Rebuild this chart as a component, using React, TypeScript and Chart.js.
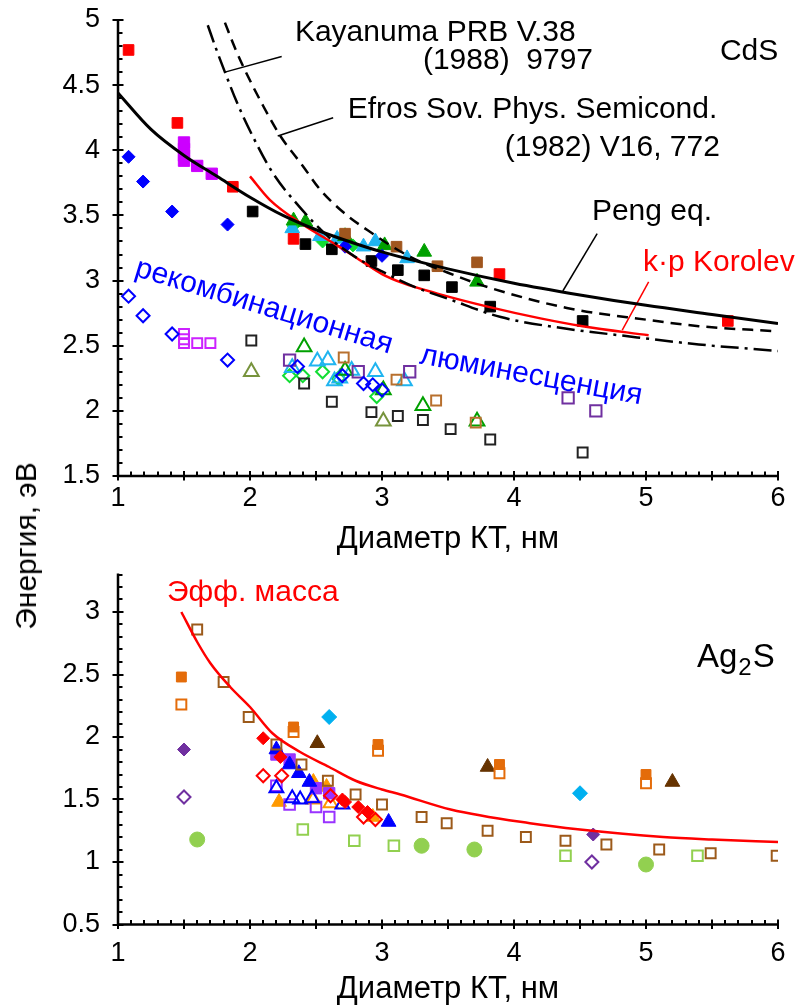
import React, { useEffect, useRef } from "react";
import { Chart, registerables } from "chart.js";
Chart.register(...registerables);

type P = [number, number];
const FONT = "'Liberation Sans', Arial, Helvetica, sans-serif";

// ---------------- CdS (top panel) ----------------
const xTicksTop = [1, 2, 3, 4, 5, 6];
const yTicksTop = [1.5, 2, 2.5, 3, 3.5, 4, 4.5, 5];

const pengEq: P[] = [[1, 4.44], [1.25, 4.16], [1.5, 3.96], [1.75, 3.8], [2, 3.64], [2.25, 3.5], [2.5, 3.39], [2.75, 3.3], [3, 3.22], [3.5, 3.09], [4, 2.98], [4.5, 2.89], [5, 2.81], [5.5, 2.74], [6, 2.67]];
const kayanuma: P[] = [[1.68, 4.96], [1.75, 4.76], [1.81, 4.6], [1.9, 4.37], [2.0, 4.15], [2.17, 3.83], [2.38, 3.56], [2.6, 3.33], [2.8, 3.18], [3.0, 3.07], [3.25, 2.95], [3.5, 2.86], [3.9, 2.72], [4.4, 2.63], [4.8, 2.58], [5.4, 2.51], [6.0, 2.46]];
const efros: P[] = [[1.81, 4.98], [1.88, 4.8], [1.95, 4.64], [2.1, 4.34], [2.23, 4.11], [2.4, 3.88], [2.53, 3.7], [2.7, 3.53], [2.9, 3.38], [3.2, 3.19], [3.5, 3.06], [3.8, 2.95], [4.4, 2.79], [5.0, 2.7], [5.4, 2.65], [6.0, 2.61]];
const kpKorolev: P[] = [[2.0, 3.8], [2.15, 3.62], [2.4, 3.43], [2.66, 3.27], [2.86, 3.14], [3.0, 3.05], [3.16, 2.98], [3.42, 2.9], [3.8, 2.8], [4.2, 2.71], [4.52, 2.65], [5.02, 2.58]];

const ptrKayanuma: P[] = [[2.24, 4.72], [1.81, 4.6]];
const ptrEfros: P[] = [[2.63, 4.25], [2.21, 4.11]];
const ptrPeng: P[] = [[4.63, 3.36], [4.37, 2.92]];
const ptrKorolev: P[] = [[5.02, 2.99], [4.82, 2.62]];

const cdsRedSq: P[] = [[1.08, 4.77], [1.45, 4.21], [1.87, 3.72], [2.33, 3.32], [3.89, 3.05], [5.62, 2.69]];
const cdsMagentaSq: P[] = [[1.5, 4.06], [1.5, 4.01], [1.5, 3.96], [1.5, 3.92], [1.6, 3.88], [1.71, 3.82]];
const cdsBlueDia: P[] = [[1.08, 3.95], [1.19, 3.76], [1.41, 3.53], [1.83, 3.43], [2.72, 3.26], [3.0, 3.19]];
const cdsBlackSq: P[] = [[2.02, 3.53], [2.42, 3.28], [2.62, 3.24], [2.92, 3.15], [3.12, 3.08], [3.32, 3.04], [3.53, 2.95], [3.82, 2.8], [4.52, 2.69]];
const cdsBrownSq: P[] = [[2.72, 3.36], [3.11, 3.26], [3.42, 3.11], [3.72, 3.14]];
const cdsGreenTri: P[] = [[2.33, 3.46], [2.42, 3.45], [2.72, 3.34], [3.02, 3.27], [3.32, 3.22], [3.72, 2.99]];
const cdsCyanTri: P[] = [[2.32, 3.4], [2.53, 3.34], [2.66, 3.32], [2.86, 3.26], [2.95, 3.3], [3.19, 3.17]];
const cdsLimeDia: P[] = [[2.33, 3.42], [2.55, 3.3], [2.78, 3.27]];

const cdsBlueDiaO: P[] = [[1.08, 2.88], [1.19, 2.73], [1.41, 2.59], [1.83, 2.39], [2.36, 2.34], [2.7, 2.27], [2.86, 2.21], [2.93, 2.2], [3.0, 2.16]];
const cdsMagentaSqO: P[] = [[1.5, 2.59], [1.5, 2.55], [1.5, 2.52], [1.6, 2.52], [1.7, 2.52]];
const cdsBlackSqO: P[] = [[2.01, 2.54], [2.41, 2.21], [2.62, 2.07], [2.92, 1.99], [3.12, 1.96], [3.31, 1.93], [3.52, 1.86], [3.82, 1.78], [4.52, 1.68]];
const cdsBrownSqO: P[] = [[2.71, 2.41], [3.11, 2.24], [3.41, 2.08], [3.71, 1.91]];
const cdsPurpleSqO: P[] = [[2.3, 2.39], [2.82, 2.3], [3.21, 2.3], [4.41, 2.1], [4.62, 2.0]];
const cdsOliveTriO: P[] = [[2.01, 2.3], [3.01, 1.92]];
const cdsGreenTriO: P[] = [[2.41, 2.49], [2.72, 2.31], [3.01, 2.16], [3.31, 2.04], [3.72, 1.92]];
const cdsCyanTriO: P[] = [[2.32, 2.33], [2.51, 2.38], [2.59, 2.39], [2.64, 2.23], [2.68, 2.25], [2.77, 2.31], [2.95, 2.3], [3.17, 2.23]];
const cdsLimeDiaO: P[] = [[2.3, 2.27], [2.4, 2.27], [2.55, 2.3], [2.67, 2.25], [2.96, 2.11]];

// ---------------- Ag2S (bottom panel) ----------------
const xTicksBot = [1, 2, 3, 4, 5, 6];
const yTicksBot = [0.5, 1, 1.5, 2, 2.5, 3];

const effMass: P[] = [[1.48, 3.0], [1.6, 2.76], [1.7, 2.59], [1.85, 2.4], [2.0, 2.24], [2.17, 2.03], [2.38, 1.88], [2.6, 1.76], [2.8, 1.65], [3.0, 1.58], [3.14, 1.54], [3.52, 1.42], [4.12, 1.31], [4.5, 1.26], [5.13, 1.2], [5.5, 1.18], [6.0, 1.16]];

const agBrownSqO: P[] = [[1.6, 2.86], [1.8, 2.44], [1.99, 2.16], [2.2, 1.94], [2.39, 1.78], [2.59, 1.65], [2.8, 1.54], [3.0, 1.46], [3.3, 1.36], [3.49, 1.31], [3.8, 1.25], [4.09, 1.2], [4.39, 1.17], [4.7, 1.14], [5.1, 1.1], [5.49, 1.07], [5.99, 1.05]];
const agOrangeSq: P[] = [[1.48, 2.48], [2.33, 2.08], [2.97, 1.94], [3.89, 1.78], [5.0, 1.7]];
const agOrangeSqO: P[] = [[1.48, 2.26], [2.33, 2.04], [2.97, 1.89], [3.89, 1.71], [5.0, 1.63]];
const agDarkTri: P[] = [[2.51, 1.95], [3.8, 1.76], [5.2, 1.64]];
const agCyanDia: P[] = [[2.6, 2.16], [4.5, 1.55]];
const agPurpleDia: P[] = [[1.5, 1.9], [4.6, 1.22]];
const agPurpleDiaO: P[] = [[1.5, 1.52], [4.59, 1.0]];
const agGreenDot: P[] = [[1.6, 1.18], [3.3, 1.13], [3.7, 1.1], [5.0, 0.98]];
const agGreenSqO: P[] = [[2.4, 1.26], [2.79, 1.17], [3.09, 1.13], [4.39, 1.05], [5.39, 1.05]];
const agRedDia: P[] = [[2.1, 1.99], [2.23, 1.84], [2.7, 1.5], [2.72, 1.48], [2.82, 1.44], [2.89, 1.4]];
const agRedDiaO: P[] = [[2.1, 1.69], [2.24, 1.69], [2.61, 1.53], [2.86, 1.36], [2.95, 1.34]];
const agBlueTri: P[] = [[2.2, 1.9], [2.3, 1.78], [2.37, 1.71], [2.45, 1.64], [3.05, 1.32]];
const agBlueTriO: P[] = [[2.2, 1.59], [2.32, 1.51], [2.38, 1.5], [2.47, 1.51], [2.7, 1.46]];
const agVioletSq: P[] = [[2.2, 1.86], [2.3, 1.82], [2.5, 1.59], [2.6, 1.55]];
const agVioletSqO: P[] = [[2.2, 1.61], [2.3, 1.46], [2.5, 1.44], [2.6, 1.36]];
const agOrangeTri: P[] = [[2.22, 1.48], [2.48, 1.64], [2.58, 1.6], [2.93, 1.36]];
const agOrangeTriO: P[] = [[2.48, 1.5], [2.61, 1.47]];

// ---------------- helpers ----------------
const toXY = (a: P[]) => a.map(([x, y]) => ({ x, y }));

function mk(data: P[], style: string, color: string, filled: boolean, r: number, bw = 2) {
  return {
    data: toXY(data),
    pointStyle: style,
    pointRadius: r,
    pointHoverRadius: r,
    pointBackgroundColor: filled ? color : "rgba(0,0,0,0)",
    pointBorderColor: color,
    pointBorderWidth: filled ? 1 : bw,
    showLine: false,
    order: 5,
  };
}
function ln(data: P[], color: string, width: number, dash: number[] = [], smooth = true) {
  return {
    data: toXY(data),
    showLine: true,
    borderColor: color,
    borderWidth: width,
    borderDash: dash,
    pointRadius: 0,
    pointHoverRadius: 0,
    tension: smooth ? 0.4 : 0,
    cubicInterpolationMode: smooth ? "monotone" : "default",
    fill: false,
    order: 1,
  };
}

type Note = { text: string; x: number; y: number; color?: string; size?: number; rot?: number; align?: CanvasTextAlign; sub?: [string, string, string] };

function makeNotes(items: Note[]) {
  return {
    id: "notes",
    afterDraw(chart: any) {
      const { ctx, scales } = chart;
      for (const n of items) {
        const px = scales.x.getPixelForValue(n.x);
        const py = scales.y.getPixelForValue(n.y);
        const size = n.size || 30;
        ctx.save();
        ctx.translate(px, py);
        ctx.rotate(((n.rot || 0) * Math.PI) / 180);
        ctx.fillStyle = n.color || "#000";
        ctx.textBaseline = "middle";
        ctx.textAlign = n.align || "left";
        ctx.font = `${size}px ${FONT}`;
        if (n.sub) {
          const [a, b, c] = n.sub;
          ctx.textAlign = "left";
          ctx.fillText(a, 0, 0);
          let w = ctx.measureText(a).width + 1;
          ctx.font = `${Math.round(size * 0.72)}px ${FONT}`;
          ctx.fillText(b, w, size * 0.3);
          w += ctx.measureText(b).width + 1;
          ctx.font = `${size}px ${FONT}`;
          ctx.fillText(c, w, 0);
        } else {
          ctx.fillText(n.text, 0, 0);
        }
        ctx.restore();
      }
    },
  };
}

const axesPlugin = {
  id: "axesTicks",
  afterDraw(chart: any) {
    const { ctx, chartArea: a, scales } = chart;
    const x = scales.x, y = scales.y;
    ctx.save();
    ctx.strokeStyle = "#000";
    ctx.lineWidth = 2.5;
    ctx.beginPath();
    ctx.moveTo(a.left, a.top - 1);
    ctx.lineTo(a.left, a.bottom);
    ctx.lineTo(a.right + 1, a.bottom);
    ctx.stroke();
    ctx.lineWidth = 2;
    ctx.beginPath();
    for (let i = Math.round(y.min * 10); i <= Math.round(y.max * 10); i++) {
      const p = Math.round(y.getPixelForValue(i / 10));
      const major = i % 5 === 0;
      ctx.moveTo(a.left - (major ? 5.5 : 0), p);
      ctx.lineTo(a.left + (major ? 5.5 : 4.5), p);
    }
    for (let i = Math.round(x.min * 10); i <= Math.round(x.max * 10); i++) {
      const p = Math.round(x.getPixelForValue(i / 10));
      const major = i % 5 === 0;
      ctx.moveTo(p, a.bottom + (major ? 4.5 : 0));
      ctx.lineTo(p, a.bottom - (major ? 5 : 4.5));
    }
    ctx.stroke();
    ctx.restore();
  },
};

function scaleOpts(xmin: number, xmax: number, ymin: number, ymax: number, xTicks: number[], yTicks: number[], xH: number, xPad: number, titlePad: number) {
  const font = { family: FONT, size: 27 };
  return {
    x: {
      type: "linear",
      min: xmin,
      max: xmax,
      afterFit: (s: any) => { s.height = xH; s.paddingLeft = 0; s.paddingRight = 0; },
      afterBuildTicks: (s: any) => { s.ticks = xTicks.map((v) => ({ value: v })); },
      grid: { display: false, drawTicks: false },
      border: { display: false },
      ticks: { padding: xPad, font, color: "#000", autoSkip: false, maxRotation: 0, callback: (v: any) => String(v) },
      title: { display: true, text: "Диаметр КТ, нм", font: { family: FONT, size: 31 }, color: "#000", padding: { top: 0, bottom: titlePad } },
    },
    y: {
      type: "linear",
      min: ymin,
      max: ymax,
      afterFit: (s: any) => { s.width = 118; s.paddingTop = 0; s.paddingBottom = 0; },
      afterBuildTicks: (s: any) => { s.ticks = yTicks.map((v) => ({ value: v })); },
      grid: { display: false, drawTicks: false },
      border: { display: false },
      ticks: { padding: 18, font, color: "#000", autoSkip: false, callback: (v: any) => String(v) },
    },
  };
}

const topNotes: Note[] = [
  { text: "Kayanuma PRB V.38", x: 2.34, y: 4.9 },
  { text: "(1988)  9797", x: 3.31, y: 4.69 },
  { text: "Efros Sov. Phys. Semicond.", x: 2.74, y: 4.31 },
  { text: "(1982) V16, 772", x: 3.93, y: 4.02 },
  { text: "CdS", x: 5.56, y: 4.755 },
  { text: "Peng eq.", x: 4.59, y: 3.53 },
  { text: "k·p Korolev", x: 4.977, y: 3.136, color: "#ff0000" },
  { text: "рекомбинационная", x: 2.106, y: 2.8, color: "#0000ff", rot: 17, align: "center" },
  { text: "люминесценция", x: 4.13, y: 2.27, color: "#0000ff", rot: 10.5, align: "center" },
];
const botNotes: Note[] = [
  { text: "Эфф. масса", x: 1.371, y: 3.152, color: "#ff0000" },
  { text: "Ag2S", x: 5.386, y: 2.632, size: 33, sub: ["Ag", "2", "S"] },
];

export default function App() {
  const topRef = useRef<HTMLCanvasElement>(null);
  const botRef = useRef<HTMLCanvasElement>(null);

  useEffect(() => {
    const common = {
      responsive: false,
      animation: false,
      devicePixelRatio: 1,
      events: [],
      plugins: { legend: { display: false }, tooltip: { enabled: false } },
    };
    const top = new Chart(topRef.current!, {
      type: "scatter",
      data: {
        datasets: [
          ln(pengEq, "#000", 3),
          ln(kayanuma, "#000", 2.5, [18, 6, 3, 6]),
          ln(efros, "#000", 2.5, [11, 7]),
          ln(kpKorolev, "#ff0000", 2.5),
          ln(ptrKayanuma, "#000", 1.5, [], false),
          ln(ptrEfros, "#000", 1.5, [], false),
          ln(ptrPeng, "#000", 1.5, [], false),
          ln(ptrKorolev, "#ff0000", 1.5, [], false),
          mk(cdsRedSq, "rect", "#ff0000", true, 7.5),
          mk(cdsMagentaSq, "rect", "#cc00ff", true, 8),
          mk(cdsBlueDia, "rectRot", "#0000ff", true, 6.5),
          mk(cdsBlackSq, "rect", "#000000", true, 7.5),
          mk(cdsBrownSq, "rect", "#a0561e", true, 7.5),
          mk(cdsGreenTri, "triangle", "#00a000", true, 8.5),
          mk(cdsCyanTri, "triangle", "#1fb4f0", true, 8.5),
          mk(cdsLimeDia, "rectRot", "#11dd33", true, 6.5),
          mk(cdsBlueDiaO, "rectRot", "#0000ff", false, 6.5),
          mk(cdsMagentaSqO, "rect", "#cc22ff", false, 7),
          mk(cdsBlackSqO, "rect", "#222222", false, 7),
          mk(cdsBrownSqO, "rect", "#b8702e", false, 7),
          mk(cdsPurpleSqO, "rect", "#7030a0", false, 8),
          mk(cdsOliveTriO, "triangle", "#77933c", false, 8.5),
          mk(cdsGreenTriO, "triangle", "#00a000", false, 8.5),
          mk(cdsCyanTriO, "triangle", "#1fb4f0", false, 8.5),
          mk(cdsLimeDiaO, "rectRot", "#11dd33", false, 6.5),
        ] as any,
      },
      options: {
        ...common,
        layout: { padding: { left: 0, right: 20, top: 20, bottom: 0 } },
        scales: scaleOpts(1, 6, 1.5, 5, xTicksTop, yTicksTop, 82, 6, 0),
      } as any,
      plugins: [axesPlugin, makeNotes(topNotes)],
    });

    const bot = new Chart(botRef.current!, {
      type: "scatter",
      data: {
        datasets: [
          ln(effMass, "#ff0000", 2.5),
          mk(agBrownSqO, "rect", "#9c5a1a", false, 7),
          mk(agOrangeSqO, "rect", "#e46c0a", false, 7),
          mk(agOrangeSq, "rect", "#e46c0a", true, 7),
          mk(agDarkTri, "triangle", "#663300", true, 8.5),
          mk(agCyanDia, "rectRot", "#00b0f0", true, 7.5),
          mk(agPurpleDia, "rectRot", "#7030a0", true, 6.5),
          mk(agPurpleDiaO, "rectRot", "#7030a0", false, 6.5),
          mk(agGreenDot, "circle", "#92d050", true, 7.5),
          mk(agGreenSqO, "rect", "#92d050", false, 7.5),
          mk(agRedDiaO, "rectRot", "#ff0000", false, 6.5),
          mk(agRedDia, "rectRot", "#ff0000", true, 6.5),
          mk(agBlueTriO, "triangle", "#0000ff", false, 8),
          mk(agBlueTri, "triangle", "#0000ff", true, 8.5),
          mk(agVioletSqO, "rect", "#9933ff", false, 7.5),
          mk(agVioletSq, "rect", "#9933ff", true, 8),
          mk(agOrangeTriO, "triangle", "#ff9900", false, 8),
          mk(agOrangeTri, "triangle", "#ff9900", true, 8.5),
        ] as any,
      },
      options: {
        ...common,
        layout: { padding: { left: 0, right: 20, top: 16.5, bottom: 0 } },
        scales: scaleOpts(1, 6, 0.5, 3.3, xTicksBot, yTicksBot, 83.5, 13, 0),
      } as any,
      plugins: [axesPlugin, makeNotes(botNotes)],
    });

    return () => {
      top.destroy();
      bot.destroy();
    };
  }, []);

  return (
    <div style={{ position: "absolute", left: 0, top: 0, width: 798, height: 1008, background: "#fff", overflow: "hidden" }}>
      <canvas ref={topRef} width={798} height={558} style={{ position: "absolute", left: 0, top: 0, display: "block" }} />
      <canvas ref={botRef} width={798} height={450} style={{ position: "absolute", left: 0, top: 558, display: "block" }} />
      <div
        style={{
          position: "absolute",
          left: 26,
          top: 546,
          transform: "translate(-50%, -50%) rotate(-90deg)",
          font: `30px ${FONT}`,
          color: "#000",
          whiteSpace: "nowrap",
          lineHeight: "1",
        }}
      >
        Энергия, эВ
      </div>
    </div>
  );
}
